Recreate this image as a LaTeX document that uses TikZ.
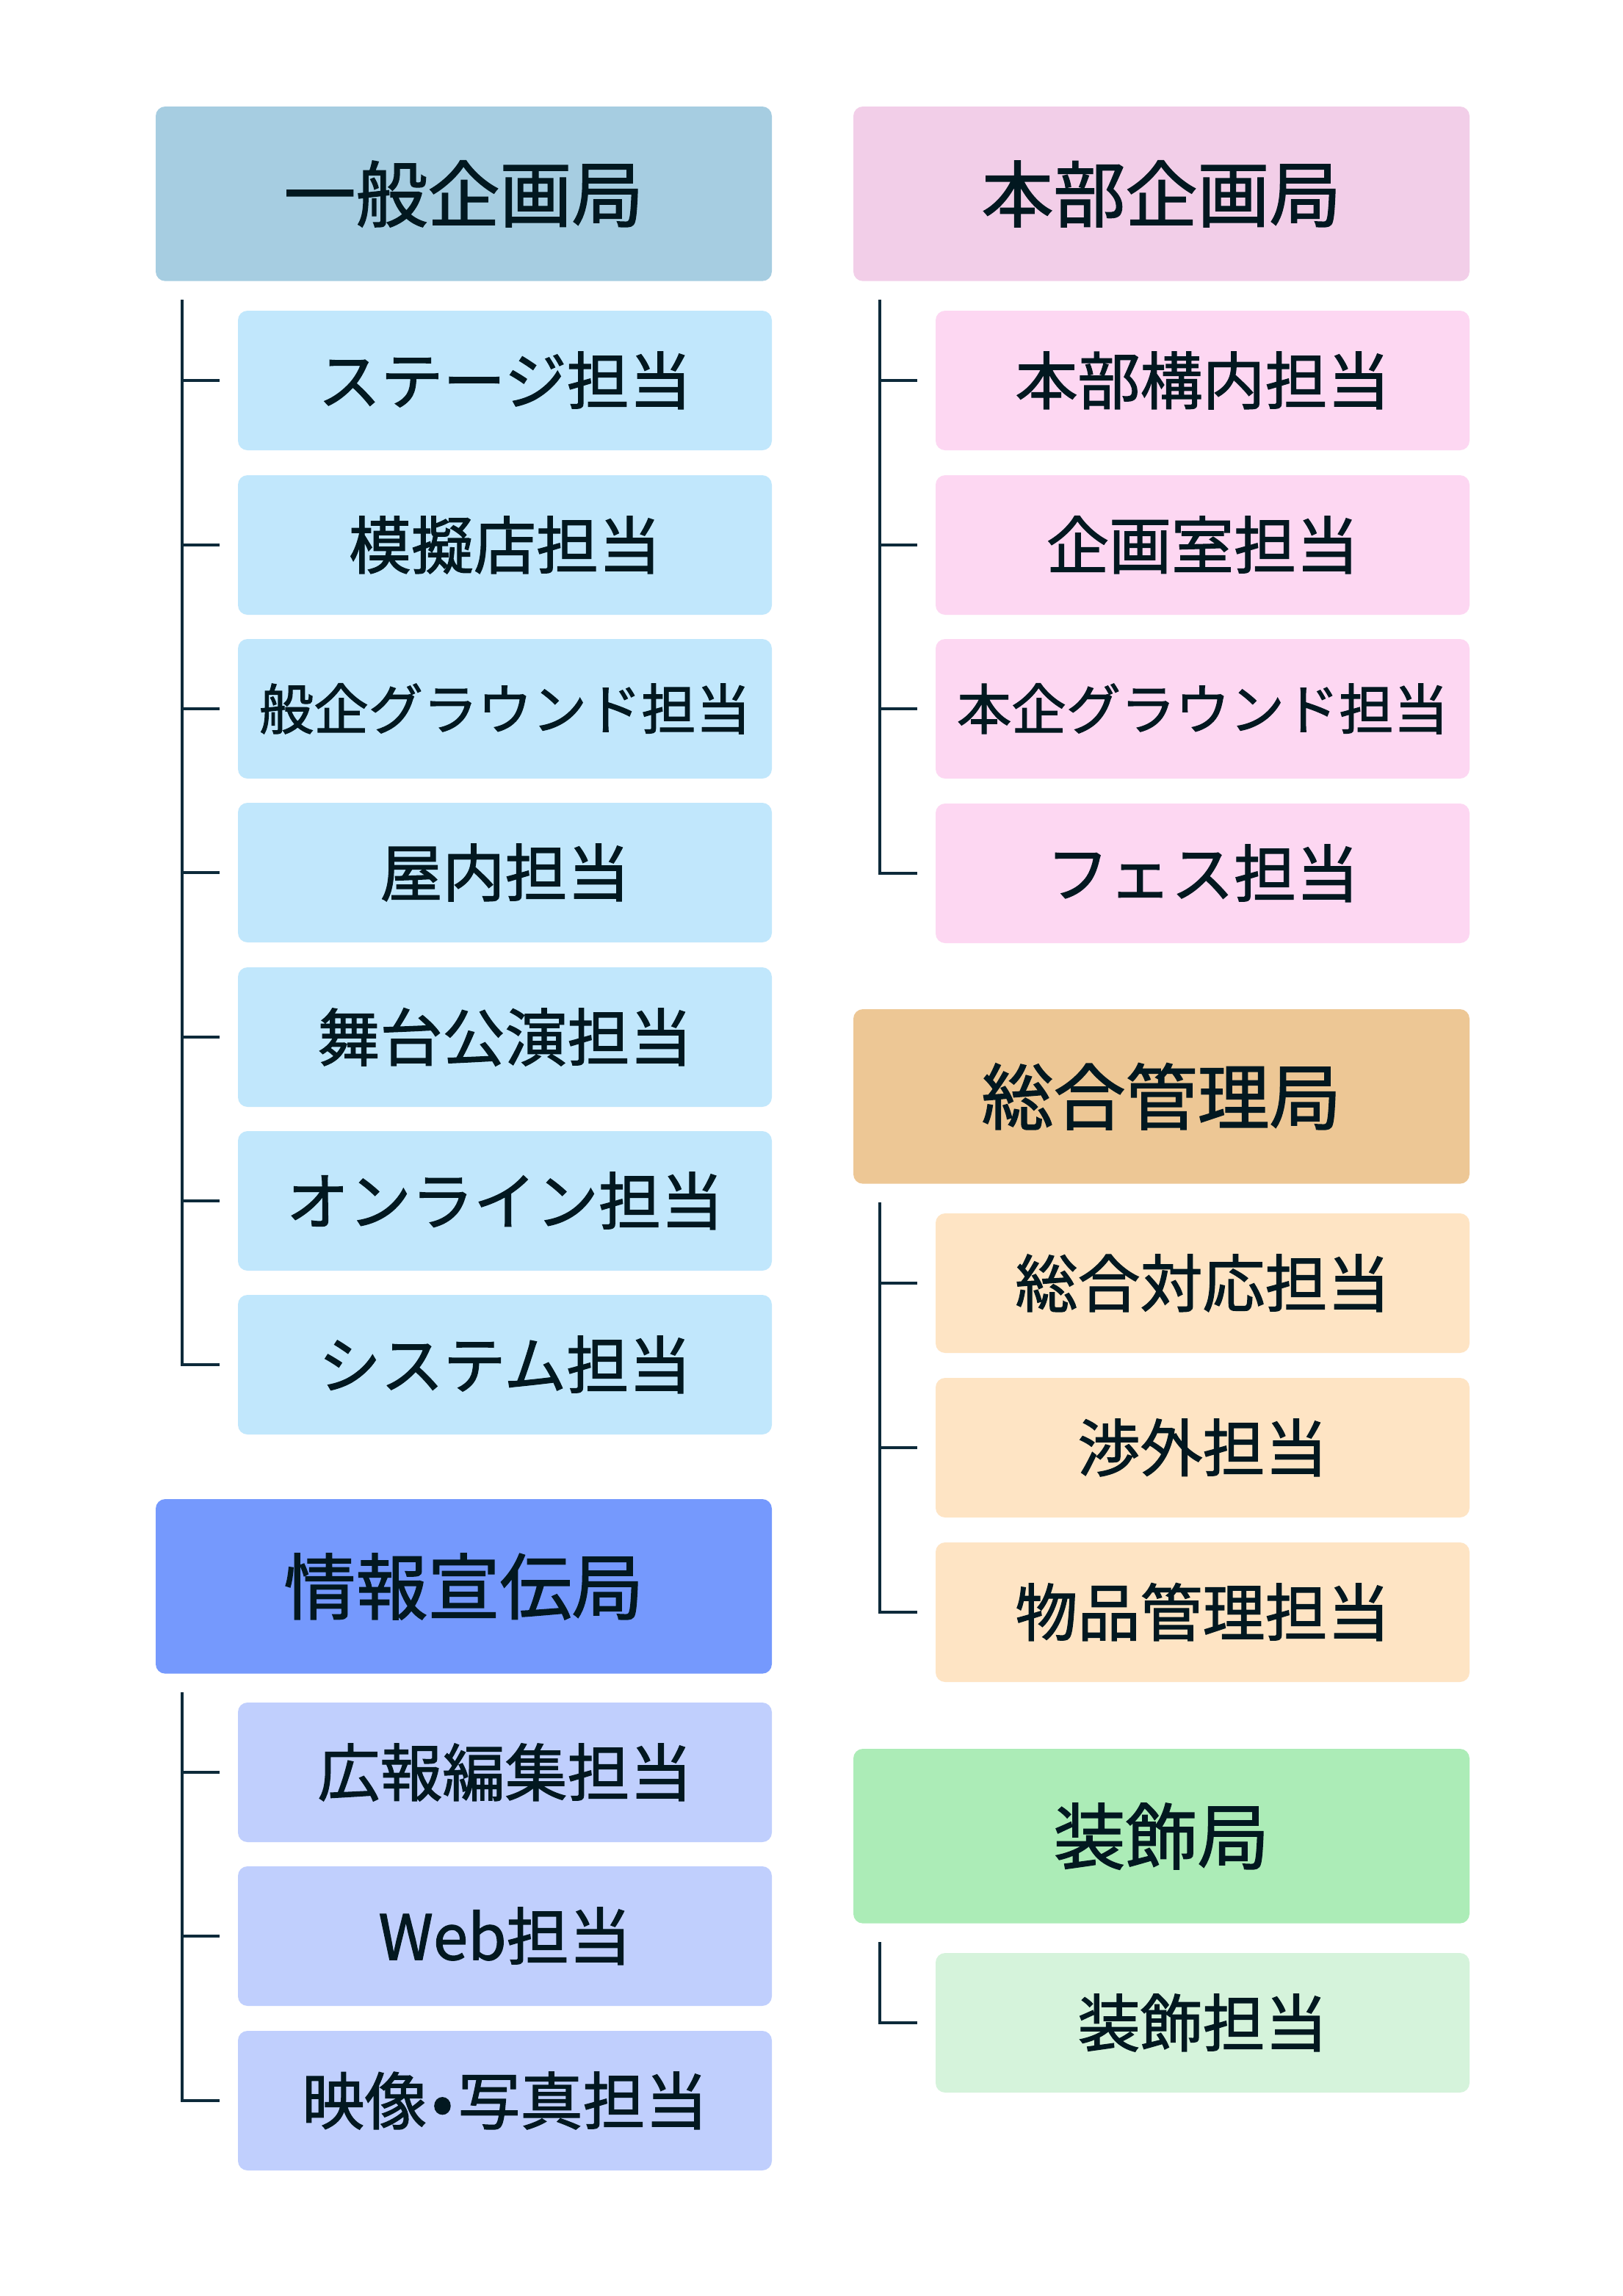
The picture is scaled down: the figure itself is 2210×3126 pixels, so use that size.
\documentclass[tikz,border=0pt]{standalone}
\usepackage{fontspec}
\newfontfamily\jp{Noto Sans CJK JP}[RawFeature={embolden=1.5}]
\definecolor{hA}{HTML}{A6CDE1}
\definecolor{sA}{HTML}{C1E7FC}
\definecolor{hB}{HTML}{7599FD}
\definecolor{sB}{HTML}{C0CFFD}
\definecolor{hC}{HTML}{F2CEE8}
\definecolor{sC}{HTML}{FDD7F2}
\definecolor{hD}{HTML}{EDC795}
\definecolor{sD}{HTML}{FEE4C4}
\definecolor{hE}{HTML}{ACECB7}
\definecolor{sE}{HTML}{D5F3DB}
\definecolor{txt}{HTML}{021820}
\definecolor{ln}{HTML}{0D2A3A}
\begin{document}
\begin{tikzpicture}[x=0.3pt,y=-0.3pt]
\tikzset{
 box/.style={anchor=north west, inner sep=0pt, outer sep=0pt, rounded corners=3.9pt, text=txt, align=center},
 hd/.style={box, minimum width=251.7pt, minimum height=71.3pt, font=\jp\fontsize{29.4}{30}\selectfont, text height=25.9pt, text depth=3.5pt},
 sb/.style={box, minimum width=218.1pt, minimum height=57pt, font=\jp\fontsize{25.5}{26}\selectfont, text height=22.4pt, text depth=3.1pt},
 sblong/.style={sb, font=\jp\fontsize{22.3}{23}\selectfont, text height=19.6pt, text depth=2.7pt},
 conn/.style={draw=ln, line width=1.2pt, line cap=butt, line join=miter},
}
\useasboundingbox (0,0) rectangle (2210,3126);
\fill[white] (0,0) rectangle (2210,3126);
% left column
\node[hd, fill=hA] (gA) at (212,145) {一般企画局};
\node[sb, fill=sA] (a1) at (324,423) {ステージ担当};
\node[sb, fill=sA] (a2) at (324,647) {模擬店担当};
\node[sblong, fill=sA] (a3) at (324,870) {般企グラウンド担当};
\node[sb, fill=sA] (a4) at (324,1093) {屋内担当};
\node[sb, fill=sA] (a5) at (324,1317) {舞台公演担当};
\node[sb, fill=sA] (a6) at (324,1540) {オンライン担当};
\node[sb, fill=sA] (a7) at (324,1763) {システム担当};
\node[hd, fill=hB] (gB) at (212,2041) {情報宣伝局};
\node[sb, fill=sB] (b1) at (324,2318) {広報編集担当};
\node[sb, fill=sB] (b2) at (324,2541) {Web担当};
\node[sb, fill=sB] (b3) at (324,2765) {映像\kern2pt•\kern2pt 写真担当};
% right column
\node[hd, fill=hC] (gC) at (1162,145) {本部企画局};
\node[sb, fill=sC] (c1) at (1274,423) {本部構内担当};
\node[sb, fill=sC] (c2) at (1274,647) {企画室担当};
\node[sblong, fill=sC] (c3) at (1274,870) {本企グラウンド担当};
\node[sb, fill=sC] (c4) at (1274,1094) {フェス担当};
\node[hd, fill=hD] (gD) at (1162,1374) {総合管理局};
\node[sb, fill=sD] (d1) at (1274,1652) {総合対応担当};
\node[sb, fill=sD] (d2) at (1274,1876) {渉外担当};
\node[sb, fill=sD] (d3) at (1274,2100) {物品管理担当};
\node[hd, fill=hE] (gE) at (1162,2381) {装飾局};
\node[sb, fill=sE] (e1) at (1274,2659) {装飾担当};
% connectors
\coordinate (vA) at (247.5,408);
\coordinate (vB) at (247.5,2304);
\coordinate (vC) at (1197.5,408);
\coordinate (vD) at (1197.5,1637);
\coordinate (vE) at (1197.5,2644);
\draw[conn] (vA) -- (vA |- a7.west) -- ([xshift=-7.5pt]a7.west);
\foreach \n in {a1,a2,a3,a4,a5,a6} \draw[conn] (vA |- \n.west) -- ([xshift=-7.5pt]\n.west);
\draw[conn] (vB) -- (vB |- b3.west) -- ([xshift=-7.5pt]b3.west);
\foreach \n in {b1,b2} \draw[conn] (vB |- \n.west) -- ([xshift=-7.5pt]\n.west);
\draw[conn] (vC) -- (vC |- c4.west) -- ([xshift=-7.5pt]c4.west);
\foreach \n in {c1,c2,c3} \draw[conn] (vC |- \n.west) -- ([xshift=-7.5pt]\n.west);
\draw[conn] (vD) -- (vD |- d3.west) -- ([xshift=-7.5pt]d3.west);
\foreach \n in {d1,d2} \draw[conn] (vD |- \n.west) -- ([xshift=-7.5pt]\n.west);
\draw[conn] (vE) -- (vE |- e1.west) -- ([xshift=-7.5pt]e1.west);
\end{tikzpicture}
\end{document}
